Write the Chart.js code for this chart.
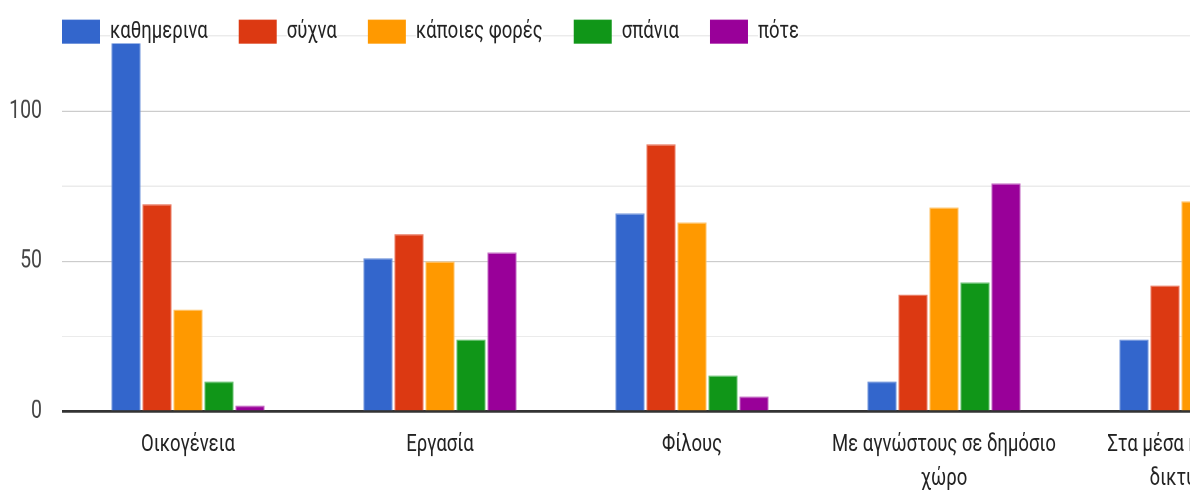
<!DOCTYPE html>
<html>
<head>
<meta charset="utf-8">
<title>Συχνότητα</title>
<script src="https://cdn.jsdelivr.net/npm/chart.js@4.4.1/dist/chart.umd.min.js"></script>
<style>
    html {
        overflow: hidden;
    }

    html, body {
        margin: 0;
        padding: 0;
        height: 492px;
        background: #ffffff;
    }

    /* drawn a bit flatter, then stretched to full height */
    #wrap {
        width: 1340px;
        height: 378.5px;
        transform: scaleY(1.3);
        transform-origin: 0 0;
    }
</style>
</head>
<body>

<div id="wrap">
    <canvas id="freqChart"></canvas>
</div>

<script>
/* =====================================
   DATA
===================================== */

const categories = [
    "Οικογένεια",
    "Εργασία",
    "Φίλους",
    ["Με αγνώστους σε δημόσιο", "χώρο"],
    ["Στα μέσα κοινωνικής", "δικτύωσης"]
];

const seriesNames = [
    "καθημερινα",
    "σύχνα",
    "κάποιες φορές",
    "σπάνια",
    "πότε"
];

const dailyData     = [123, 51, 66, 10, 24];
const oftenData     = [69, 59, 89, 39, 42];
const sometimesData = [34, 50, 63, 68, 70];
const rarelyData    = [10, 24, 12, 43, 52];
const neverData     = [2, 53, 5, 76, 48];

const yTickLabels = [0, 50, 100];

const seriesColors = ["#3366cc", "#dc3912", "#ff9900", "#109618", "#990099"];
const seriesEdges  = ["#7094db", "#ea7a62", "#ffc266", "#66bf6e", "#c266c2"];

/* =====================================
   LEGEND (drawn over the top grid line)
===================================== */

const topLegend = {

    id: "topLegend",

    afterDraw(chart){

        const c = chart.ctx;
        const y = 24.3;
        let x = 62;

        c.save();
        c.font = "18.5px Roboto";
        c.textBaseline = "middle";

        chart.data.datasets.forEach(ds => {

            c.fillStyle = ds.backgroundColor;
            c.fillRect(x, y - 9.2, 38, 18.4);
            x += 48;

            const w = c.measureText(ds.label).width;

            c.fillStyle = "#ffffff";
            c.fillRect(x, y - 9, w, 18);

            c.fillStyle = "#222222";
            c.fillText(ds.label, x, y);

            x += w + 31;
        });

        c.restore();
    }
};

/* =====================================
   CHART
===================================== */

const seriesData = [dailyData, oftenData, sometimesData, rarelyData, neverData];

const ctx = document.getElementById("freqChart").getContext("2d");

new Chart(ctx, {

    type: "bar",

    data: {

        labels: categories,

        datasets: seriesNames.map((name, i) => ({
            label: name,
            data: seriesData[i],
            backgroundColor: seriesColors[i],
            borderColor: seriesEdges[i],
            borderWidth: 1
        }))
    },

    options: {

        responsive: true,
        maintainAspectRatio: false,
        animation: false,
        devicePixelRatio: 2,

        layout: {
            padding: { top: 27.7, right: 18, left: 0, bottom: 0 }
        },

        datasets: {
            bar: {
                categoryPercentage: 0.615,
                barPercentage: 0.94
            }
        },

        plugins: {
            legend: { display: false },
            tooltip: { enabled: false }
        },

        scales: {

            x: {
                grid: { display: false, drawTicks: false },
                border: { display: false },
                ticks: {
                    color: "#222222",
                    font: { family: "Roboto", size: 18.5, lineHeight: 1.41 },
                    padding: 12.5,
                    maxRotation: 0,
                    autoSkip: false
                },
                afterFit(scale){
                    scale.height = 62.3;
                }
            },

            y: {
                min: 0,
                max: 125,
                border: { display: false },
                grid: {
                    drawTicks: false,
                    color: c => c.tick.value === 0 ? "#333333"
                        : (yTickLabels.includes(c.tick.value) ? "#cccccc" : "#ebebeb"),
                    lineWidth: c => c.tick.value === 0 ? 2 : 1
                },
                ticks: {
                    stepSize: 25,
                    padding: 20,
                    color: "#444444",
                    font: { family: "Roboto", size: 19.5 },
                    callback: v => yTickLabels.includes(v) ? String(v) : ""
                },
                afterFit(scale){
                    scale.width = 62;
                    scale.paddingTop = 0;
                    scale.paddingBottom = 0;
                }
            }
        }
    },

    plugins: [topLegend]
});
</script>
</body>
</html>
